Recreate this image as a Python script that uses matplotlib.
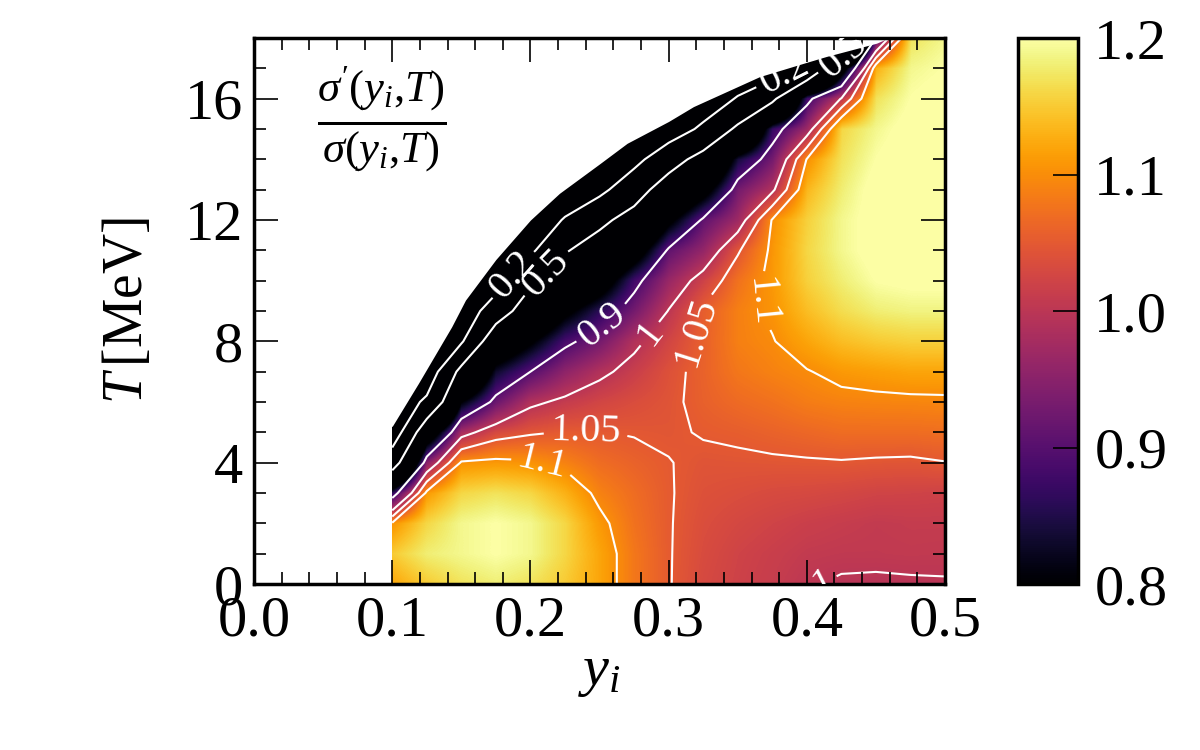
import numpy as np
import matplotlib
matplotlib.use("Agg")
import matplotlib.pyplot as plt
from matplotlib.ticker import MultipleLocator, FormatStrFormatter

plt.rcParams['font.family'] = ['Liberation Serif', 'DejaVu Serif']
plt.rcParams['mathtext.fontset'] = 'custom'
plt.rcParams['mathtext.rm'] = 'Liberation Serif'
plt.rcParams['mathtext.it'] = 'Liberation Serif:italic'

# grid of the ratio sigma'/sigma
y_cols = [0.100, 0.125, 0.150, 0.175, 0.200, 0.225, 0.250, 0.275, 0.300,
          0.325, 0.350, 0.375, 0.400, 0.425, 0.450, 0.475, 0.500]
T_rows = list(range(0, 19))

# one list per y column, T = 0 .. 18 MeV
ratio_cols = [
    [1.12, 1.15, 1.105, 0.86, 0.38, 0.02, 0, 0, 0, 0, 0, 0, 0, 0, 0, 0, 0, 0, 0],
    [1.15, 1.18, 1.16, 1.11, 0.95, 0.70, 0.25, 0.02, 0, 0, 0, 0, 0, 0, 0, 0, 0, 0, 0],
    [1.17, 1.19, 1.19, 1.16, 1.105, 0.98, 0.80, 0.58, 0.17, 0.02, 0, 0, 0, 0, 0, 0, 0, 0, 0],
    [1.18, 1.20, 1.20, 1.17, 1.11, 1.03, 0.92, 0.83, 0.70, 0.35, 0.08, 0, 0, 0, 0, 0, 0, 0, 0],
    [1.17, 1.19, 1.19, 1.16, 1.105, 1.045, 0.99, 0.90, 0.79, 0.66, 0.45, 0.15, 0.02, 0, 0, 0, 0, 0, 0],
    [1.15, 1.16, 1.16, 1.13, 1.09, 1.052, 1.01, 0.955, 0.885, 0.78, 0.66, 0.48, 0.22, 0.03, 0, 0, 0, 0, 0],
    [1.12, 1.12, 1.11, 1.09, 1.07, 1.051, 1.025, 0.99, 0.93, 0.86, 0.74, 0.62, 0.44, 0.13, 0, 0, 0, 0, 0],
    [1.08, 1.08, 1.075, 1.07, 1.06, 1.048, 1.035, 1.015, 0.99, 0.93, 0.88, 0.74, 0.60, 0.38, 0.12, 0, 0, 0, 0],
    [1.052, 1.052, 1.052, 1.052, 1.051, 1.046, 1.044, 1.04, 1.025, 1.002, 0.965, 0.91, 0.78, 0.64, 0.38, 0.05, 0, 0, 0],
    [1.03, 1.033, 1.036, 1.04, 1.044, 1.052, 1.058, 1.06, 1.058, 1.055, 1.02, 0.96, 0.91, 0.76, 0.60, 0.25, 0.03, 0, 0],
    [1.02, 1.022, 1.028, 1.036, 1.045, 1.055, 1.068, 1.08, 1.088, 1.088, 1.075, 1.045, 0.97, 0.93, 0.84, 0.55, 0.22, 0, 0],
    [1.012, 1.015, 1.022, 1.032, 1.046, 1.06, 1.075, 1.09, 1.098, 1.106, 1.11, 1.108, 1.103, 0.99, 0.93, 0.87, 0.45, 0.05, 0],
    [1.002, 1.008, 1.016, 1.03, 1.047, 1.065, 1.085, 1.098, 1.12, 1.14, 1.155, 1.16, 1.155, 1.135, 1.102, 0.97, 0.88, 0.25, 0],
    [0.997, 1.006, 1.012, 1.027, 1.048, 1.07, 1.09, 1.11, 1.14, 1.165, 1.18, 1.19, 1.19, 1.18, 1.17, 1.16, 1.003, 0.75, 0],
    [0.996, 1.006, 1.008, 1.023, 1.046, 1.07, 1.092, 1.115, 1.15, 1.18, 1.2, 1.21, 1.21, 1.21, 1.2, 1.19, 1.17, 1.13, 0.9],
    [0.997, 1.007, 1.01, 1.022, 1.045, 1.07, 1.093, 1.12, 1.155, 1.185, 1.205, 1.215, 1.22, 1.22, 1.215, 1.21, 1.2, 1.19, 1.17],
    [0.998, 1.006, 1.01, 1.02, 1.049, 1.072, 1.094, 1.12, 1.155, 1.185, 1.205, 1.215, 1.22, 1.22, 1.22, 1.215, 1.21, 1.2, 1.19],
]

# upper edge of the region that has data
edge_y = [0.100, 0.119, 0.143, 0.153, 0.175, 0.200, 0.221, 0.250, 0.270,
          0.300, 0.318, 0.350, 0.366, 0.400, 0.414, 0.4505, 0.459]
edge_T = [5.2, 6.62, 8.48, 9.36, 10.7, 12.0, 12.88, 13.85, 14.53,
          15.25, 15.74, 16.4, 16.73, 17.2, 17.39, 17.83, 18.0]

levels = [0.2, 0.5, 0.9, 1.0, 1.05, 1.1]
cbar_ticks = [0.8, 0.9, 1.0, 1.1, 1.2]

Z = np.array(ratio_cols).T
dy = y_cols[1] - y_cols[0]

fig = plt.figure(figsize=(12, 7.5), dpi=100)
ax = fig.add_axes([0.2117, 0.2213, 0.5758, 0.728])
cax = fig.add_axes([0.848, 0.2213, 0.05, 0.728])

img = ax.imshow(Z, origin='lower', aspect='auto', cmap='inferno',
                vmin=0.8, vmax=1.2, interpolation='bilinear',
                interpolation_stage='data',
                extent=[y_cols[0] - dy / 2, y_cols[-1] + dy / 2,
                        T_rows[0] - 0.5, T_rows[-1] + 0.5], zorder=1)
# blank out everything outside the computed region
ax.fill_between([0.0] + edge_y, [edge_T[0]] + edge_T, 18.5,
                color='white', lw=0, zorder=1.5)
ax.axvspan(0, y_cols[0] - 0.0005, color='white', lw=0, zorder=1.5)

cs = ax.contour(y_cols, T_rows, Z, levels=levels, colors='white',
                linewidths=1.5, zorder=1.4)
label_pos = [(0.185, 10.3), (0.385, 16.7), (0.21, 10.3), (0.43, 17.3),
             (0.249, 8.7), (0.285, 8.3), (0.41, 0.2), (0.24, 5.05),
             (0.322, 8.3), (0.21, 4.2), (0.372, 9.3)]
ax.clabel(cs, fmt='%g', fontsize=29, manual=label_pos, inline_spacing=4)

ax.set_xlim(0, 0.5)
ax.set_ylim(0, 18)
ax.xaxis.set_major_locator(MultipleLocator(0.1))
ax.xaxis.set_minor_locator(MultipleLocator(0.02))
ax.yaxis.set_major_locator(MultipleLocator(4))
ax.yaxis.set_minor_locator(MultipleLocator(1))
ax.xaxis.set_major_formatter(FormatStrFormatter('%.1f'))
ax.tick_params(which='both', direction='in', top=True, right=True,
               labelsize=42, width=1.2, pad=8)
ax.tick_params(which='major', length=17)
ax.tick_params(which='minor', length=8.5)
for sp in ax.spines.values():
    sp.set_linewidth(2.5)

ax.set_xlabel(r'$y_i$', fontsize=42, labelpad=0)
ax.set_ylabel(r'$T\,[\mathrm{MeV}]$', fontsize=40, labelpad=22)
ax.text(0.185, 0.85, r"$\frac{\sigma'(y_i{,}T)}{\sigma(y_i{,}T)}$",
        transform=ax.transAxes, fontsize=46, ha='center', va='center')

cb = fig.colorbar(img, cax=cax, ticks=cbar_ticks)
cb.outline.set_linewidth(2.5)
cb.ax.yaxis.set_major_formatter(FormatStrFormatter('%.1f'))
cax.tick_params(direction='in', labelsize=42, length=18, width=1.2, pad=12)

fig.savefig('out.png', dpi=100)
